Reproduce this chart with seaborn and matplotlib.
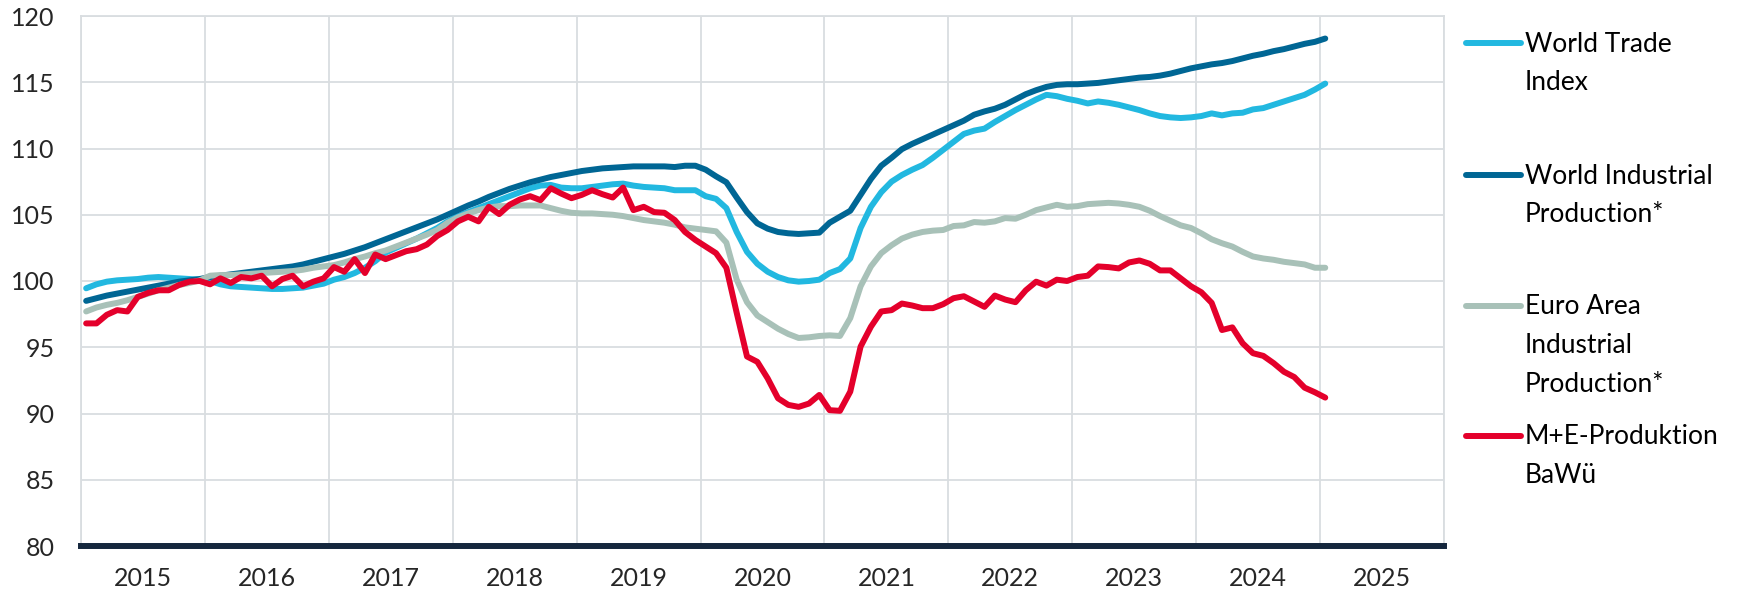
import numpy as np
import pandas as pd
import matplotlib
matplotlib.use("Agg")
import matplotlib.pyplot as plt
from matplotlib.lines import Line2D
import seaborn as sns

# monthly values, Jan 2015 .. Jan 2025
world_trade = [
    99.45, 99.75, 99.95, 100.05, 100.1, 100.15, 100.25, 100.3, 100.25, 100.2, 100.15, 100.1,
    100.0, 99.75, 99.6, 99.55, 99.5, 99.45, 99.4, 99.4, 99.45, 99.5, 99.65, 99.8,
    100.1, 100.3, 100.6, 101.0, 101.5, 102.15, 102.5, 102.85, 103.2, 103.6, 104.0, 104.5,
    104.9, 105.2, 105.5, 105.8, 106.1, 106.4, 106.7, 107.0, 107.2, 107.25, 107.05, 107.0,
    107.0, 107.1, 107.2, 107.3, 107.35, 107.2, 107.1, 107.05, 107.0, 106.85, 106.85, 106.85,
    106.4, 106.2, 105.5, 103.7, 102.2, 101.3, 100.7, 100.3, 100.05, 99.95, 100.0, 100.1,
    100.6, 100.9, 101.7, 104.0, 105.6, 106.7, 107.5, 108.0, 108.4, 108.75, 109.3, 109.9,
    110.5, 111.1, 111.35, 111.5, 112.0, 112.45, 112.9, 113.3, 113.7, 114.05, 113.95, 113.75,
    113.6, 113.4, 113.55, 113.45, 113.3, 113.1, 112.9, 112.65, 112.45, 112.35, 112.3, 112.35,
    112.45, 112.65, 112.5, 112.65, 112.7, 112.95, 113.05, 113.3, 113.55, 113.8, 114.05, 114.45,
    114.9,
]
world_ip = [
    98.5, 98.7, 98.9, 99.05, 99.2, 99.35, 99.5, 99.65, 99.8, 99.95, 100.05, 100.15,
    100.3, 100.4, 100.5, 100.6, 100.7, 100.8, 100.9, 101.0, 101.1, 101.25, 101.45, 101.65,
    101.85, 102.05, 102.3, 102.55, 102.85, 103.15, 103.45, 103.75, 104.05, 104.35, 104.65, 105.0,
    105.35, 105.7, 106.0, 106.35, 106.65, 106.95, 107.2, 107.45, 107.65, 107.85, 108.0, 108.15,
    108.3, 108.4, 108.5, 108.55, 108.6, 108.65, 108.65, 108.65, 108.65, 108.6, 108.7, 108.7,
    108.4, 107.9, 107.45, 106.3, 105.2, 104.35, 103.95, 103.7, 103.6, 103.55, 103.6, 103.65,
    104.4, 104.85, 105.3, 106.5, 107.7, 108.7, 109.3, 109.95, 110.35, 110.7, 111.05, 111.4,
    111.75, 112.1, 112.55, 112.8, 113.0, 113.3, 113.7, 114.1, 114.4, 114.65, 114.8, 114.85,
    114.85, 114.9, 114.95, 115.05, 115.15, 115.25, 115.35, 115.4, 115.5, 115.65, 115.85, 116.05,
    116.2, 116.35, 116.45, 116.6, 116.8, 117.0, 117.15, 117.35, 117.5, 117.7, 117.9, 118.05,
    118.3,
]
euro_ip = [
    97.7, 98.0, 98.2, 98.35, 98.55, 98.8, 99.05, 99.3, 99.5, 99.7, 99.85, 100.05,
    100.4, 100.45, 100.45, 100.5, 100.55, 100.6, 100.65, 100.7, 100.75, 100.85, 101.0, 101.1,
    101.2, 101.4, 101.65, 101.85, 102.1, 102.3, 102.6, 102.9, 103.2, 103.5, 103.85, 104.4,
    104.8, 105.1, 105.35, 105.55, 105.65, 105.65, 105.7, 105.7, 105.7, 105.5, 105.3, 105.15,
    105.1, 105.1, 105.05, 105.0, 104.9, 104.75, 104.6, 104.5, 104.4, 104.25, 104.05, 103.95,
    103.85, 103.75, 102.9, 100.1, 98.4, 97.4, 96.9, 96.4, 96.0, 95.7, 95.75, 95.85,
    95.9, 95.85, 97.2, 99.6, 101.1, 102.1, 102.7, 103.2, 103.5, 103.7, 103.8, 103.85,
    104.15, 104.2, 104.45, 104.4, 104.5, 104.75, 104.7, 105.0, 105.35, 105.55, 105.75, 105.6,
    105.65, 105.8, 105.85, 105.9, 105.85, 105.75, 105.6, 105.3, 104.9, 104.55, 104.2, 104.0,
    103.6, 103.15, 102.85, 102.6, 102.2, 101.85, 101.7, 101.6, 101.45, 101.35, 101.25, 101.0,
    101.0,
]
me_bawue = [
    96.8, 96.8, 97.45, 97.8, 97.7, 98.8, 99.1, 99.3, 99.3, 99.7, 99.95, 100.0,
    99.75, 100.2, 99.85, 100.3, 100.2, 100.4, 99.6, 100.15, 100.4, 99.6, 99.95, 100.2,
    101.05, 100.7, 101.65, 100.6, 102.0, 101.65, 101.95, 102.25, 102.4, 102.75, 103.4, 103.85,
    104.5, 104.85, 104.5, 105.6, 105.05, 105.75, 106.15, 106.4, 106.1, 107.0, 106.6, 106.25,
    106.5, 106.85, 106.55, 106.3, 107.05, 105.35, 105.6, 105.2, 105.15, 104.6, 103.7, 103.1,
    102.6, 102.1, 101.0, 97.6, 94.3, 93.9, 92.65, 91.15, 90.65, 90.5, 90.75, 91.4,
    90.25, 90.2, 91.65, 95.05, 96.55, 97.7, 97.8, 98.3, 98.15, 97.95, 97.95, 98.25,
    98.7, 98.85, 98.45, 98.05, 98.9, 98.6, 98.4, 99.3, 99.95, 99.65, 100.1, 100.0,
    100.3, 100.4, 101.1, 101.05, 100.95, 101.4, 101.55, 101.3, 100.8, 100.8, 100.2, 99.6,
    99.15, 98.35, 96.3, 96.5, 95.3, 94.55, 94.35, 93.8, 93.15, 92.75, 91.95, 91.6,
    91.2,
]

series_names = ["World Trade Index", "World Industrial Production*",
                "Euro Area Industrial Production*", "M+E-Produktion BaWü"]
legend_lines = [["World Trade", "Index"],
                ["World Industrial", "Production*"],
                ["Euro Area", "Industrial", "Production*"],
                ["M+E-Produktion", "BaWü"]]
colors = ["#22b8e0", "#006694", "#a8c1b8", "#e4002b"]
years = list(range(2015, 2026))

# month position as decimal year (mid-month)
xpos = 2015 + (np.arange(len(world_trade)) + 0.5) / 12
df = pd.DataFrame({"x": xpos,
                   series_names[0]: world_trade,
                   series_names[1]: world_ip,
                   series_names[2]: euro_ip,
                   series_names[3]: me_bawue})
long = df.melt(id_vars="x", var_name="series", value_name="value")

sns.set_style("white")
plt.rcParams["font.family"] = ["Lato", "DejaVu Sans"]

fig = plt.figure(figsize=(17.39, 5.92), dpi=100)
ax = fig.add_axes([81 / 1739, 1 - 546 / 592, (1444 - 81) / 1739, (546 - 16) / 592])

grid_c = "#d9dde0"
sns.lineplot(data=long, x="x", y="value", hue="series", hue_order=series_names,
             palette=colors, linewidth=4.3, legend=False, ax=ax,
             solid_capstyle="round", solid_joinstyle="round")

ax.set_xlim(2015, 2026)
ax.set_ylim(80, 120)
ax.set_yticks(range(80, 121, 5))
ax.set_xticks(range(2015, 2027))
ax.set_xticklabels([])
ax.set_xticks([y + 0.5 for y in years], minor=True)
ax.set_xticklabels([str(y) for y in years], minor=True)
ax.tick_params(which="both", length=0)
ax.tick_params(axis="y", labelsize=18, pad=19)
ax.tick_params(axis="x", which="minor", labelsize=18, pad=15)
ax.grid(True, which="major", color=grid_c, linewidth=1.3)
ax.set_axisbelow(True)
ax.set_xlabel("")
ax.set_ylabel("")
for side in ["top", "left", "right"]:
    ax.spines[side].set_color(grid_c)
    ax.spines[side].set_linewidth(1.3)
ax.spines["bottom"].set_color("#15273d")
ax.spines["bottom"].set_linewidth(4.3)
ax.spines["bottom"].set_zorder(5)

# legend, handle aligned to first text line
ys = [43, 175, 306, 436]
for name_lines, col, y in zip(legend_lines, colors, ys):
    fy = 1 - y / 592
    fig.add_artist(Line2D([1466 / 1739, 1521 / 1739], [fy, fy], color=col,
                          linewidth=4.3, solid_capstyle="round",
                          transform=fig.transFigure))
    for i, t in enumerate(name_lines):
        fig.text(1525 / 1739, 1 - (y + 1 + i * 38.5) / 592, t, fontsize=19,
                 va="center", ha="left", color="#000000")

fig.savefig("out.png", dpi=100)
